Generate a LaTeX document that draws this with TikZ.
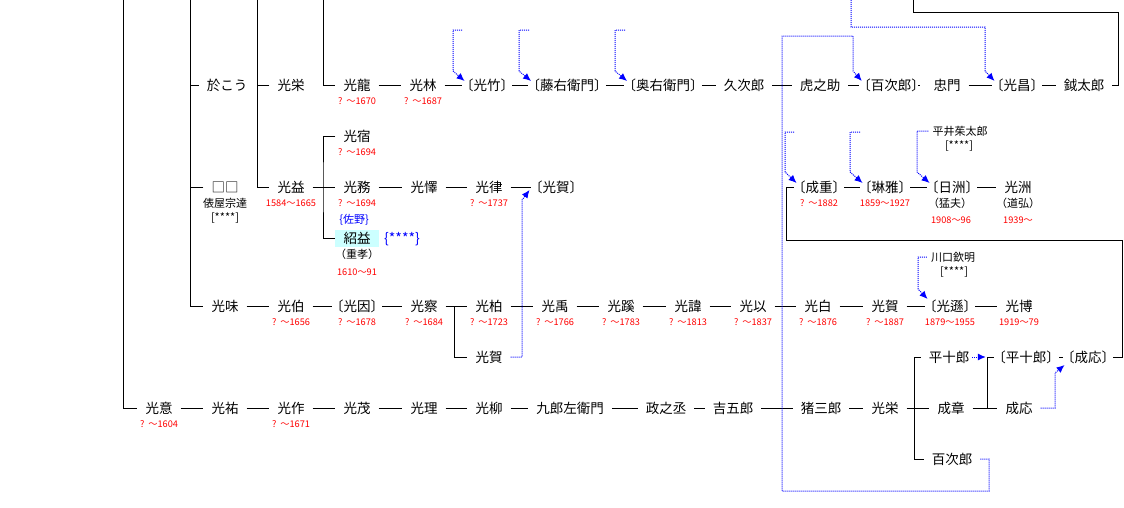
\documentclass[tikz,border=0pt]{standalone}
\usepackage{fontspec}
\newfontfamily\jp{Noto Sans CJK JP}[RawFeature={+halt}]
\usetikzlibrary{arrows.meta,calc}
\definecolor{hl}{RGB}{204,255,255}
\begin{document}
\begin{tikzpicture}[x=1pt,y=-1pt,
  nm/.style={font=\jp\fontsize{13.5}{14}\selectfont, inner xsep=8pt, inner ysep=0pt, text height=11.9pt, text depth=1.6pt},
  bk/.style={nm, inner xsep=5pt},
  yr/.style={font=\jp\fontsize{9.2}{10}\selectfont, text=red, inner sep=0pt},
  sm/.style={font=\jp\fontsize{11}{12}\selectfont, inner sep=0pt},
  bl/.style={sm, text=blue},
  ln/.style={draw=black, line width=1pt},
  dt/.style={draw=blue, line width=1pt, dash pattern=on 1pt off 1pt},
  ar/.style={dt, -{Latex[length=8pt,width=7pt]}},
]
\useasboundingbox (0,0) rectangle (1124,507);
% ---------- row 1
\node[nm] (okou) at (227,85) {於こう};
\node[nm] (kouei1) at (291,85) {光栄};
\node[nm] (kouryu) at (357,85) {光龍};
\node[nm] (kourin) at (423,85) {光林};
\node[bk] (kouchiku) at (487,85) {〔光竹〕};
\node[bk] (touemon) at (567,85) {〔藤右衛門〕};
\node[bk] (ouemon) at (663,85) {〔奥右衛門〕};
\node[nm] (kyujiro) at (744,85) {久次郎};
\node[nm] (tora) at (820,85) {虎之助};
\node[bk] (hyakuA) at (891,85) {〔百次郎〕};
\node[nm] (tadakado) at (947,85) {忠門};
\node[bk] (kousho) at (1017,85) {〔光昌〕};
\node[nm] (ontaro) at (1084,85) {鉞太郎};
\node[yr] (d1) at (357,101) {?\hspace{4pt}〜1670};
\node[yr] (d2) at (423,101) {?\hspace{4pt}〜1687};
% ---------- row 1.5 / 2
\node[nm] (koushuku) at (357,136) {光宿};
\node[yr] (d3) at (357,152) {?\hspace{4pt}〜1694};
\node[nm] (kaku) at (225,187) {□□};
\node[sm] (tawaraya) at (225,203) {俵屋宗達};
\node[sm] (ast1) at (225,218) {[****]};
\node[nm] (kouek) at (291,187) {光益};
\node[yr] (d4) at (291,203) {1584〜1665};
\node[nm] (koumu) at (357,187) {光務};
\node[yr] (d5) at (357,203) {?\hspace{4pt}〜1694};
\node[bl] (sano) at (354,220) {\{佐野\}};
\node[nm, fill=hl, inner xsep=8.5pt, inner ysep=1.75pt] (shoeki) at (357,238) {紹益};
\node[bl, font=\jp\fontsize{14}{15}\selectfont] (ast2) at (402,239) {\{****\}};
\node[sm] (shigetaka) at (357,254) {（重孝）};
\node[yr] (d6) at (357,272) {1610〜91};
\node[nm] (koueki2) at (424,187) {光懌};
\node[nm] (kouritsu) at (489,187) {光律};
\node[yr] (d7) at (489,203) {?\hspace{4pt}〜1737};
\node[bk] (kougaA) at (556,187) {〔光賀〕};
\node[bk] (seiju) at (819,187) {〔成重〕};
\node[yr] (d8) at (819,203) {?\hspace{4pt}〜1882};
\node[bk] (ringa) at (885,187) {〔琳雅〕};
\node[yr] (d9) at (885,203) {1859〜1927};
\node[bk] (nisshu) at (952,187) {〔日洲〕};
\node[sm] (takeo) at (950,203) {（猛夫）};
\node[yr] (d10) at (951,220) {1908〜96};
\node[nm] (koushu) at (1018,187) {光洲};
\node[sm] (michihiro) at (1018,203) {（道弘）};
\node[yr] (d11) at (1018,220) {1939〜};
\node[sm, inner xsep=4pt] (hirai) at (960,131) {平井茱太郎};
\node[sm] (ast3) at (959,146) {[****]};
% ---------- row 3
\node[nm] (koumi) at (225,306) {光味};
\node[nm] (kouhaku) at (291,306) {光伯};
\node[bk] (kouin) at (357,306) {〔光因〕};
\node[nm] (kousatsu) at (424,306) {光察};
\node[nm] (kouhaku2) at (489,306) {光柏};
\node[nm] (kouu) at (555,306) {光禹};
\node[nm] (koukei) at (621,306) {光蹊};
\node[nm] (koui) at (688,306) {光諱};
\node[nm] (kouii) at (753,306) {光以};
\node[nm] (kouhaku3) at (818,306) {光白};
\node[nm] (kouga2) at (885,306) {光賀};
\node[bk] (kouson) at (950,306) {〔光遜〕};
\node[nm] (kouhaku4) at (1019,306) {光博};
\node[sm, inner xsep=4pt] (kawaguchi) at (953,257) {川口欽明};
\node[sm] (ast4) at (954,272) {[****]};
\node[yr] at (291,322) {?\hspace{4pt}〜1656};
\node[yr] at (357,322) {?\hspace{4pt}〜1678};
\node[yr] at (424,322) {?\hspace{4pt}〜1684};
\node[yr] at (489,322) {?\hspace{4pt}〜1723};
\node[yr] at (555,322) {?\hspace{4pt}〜1766};
\node[yr] at (621,322) {?\hspace{4pt}〜1783};
\node[yr] at (688,322) {?\hspace{4pt}〜1813};
\node[yr] at (753,322) {?\hspace{4pt}〜1837};
\node[yr] at (818,322) {?\hspace{4pt}〜1876};
\node[yr] at (885,322) {?\hspace{4pt}〜1887};
\node[yr] at (950,322) {1879〜1955};
\node[yr] at (1019,322) {1919〜79};
% ---------- row 3.5
\node[nm] (kouga3) at (489,357) {光賀};
\node[nm] (heijuro) at (949,357) {平十郎};
\node[bk] (heijuroA) at (1026,357) {〔平十郎〕};
\node[bk] (seiouA) at (1088,357) {〔成応〕};
% ---------- row 4
\node[nm] (kouiz) at (159,408) {光意};
\node[nm] (kouyu) at (225,408) {光祐};
\node[nm] (kousaku) at (291,408) {光作};
\node[nm] (koumo) at (357,408) {光茂};
\node[nm] (kouri) at (424,408) {光理};
\node[nm] (kouryu2) at (489,408) {光柳};
\node[nm] (kuro) at (570,408) {九郎左衛門};
\node[nm] (masa) at (666,408) {政之丞};
\node[nm] (kichi) at (733,408) {吉五郎};
\node[nm] (isa) at (821,408) {猪三郎};
\node[nm] (kouei2) at (885,408) {光栄};
\node[nm] (seisho) at (951,408) {成章};
\node[nm] (seiou) at (1019,408) {成応};
\node[yr] at (159,424) {?\hspace{4pt}〜1604};
\node[yr] at (291,424) {?\hspace{4pt}〜1671};
\node[nm] (hyaku) at (952,459) {百次郎};
% ---------- coordinates (free ends, bends)
\coordinate (t1) at (123,0);
\coordinate (t2) at (190,0);
\coordinate (t3) at (257,0);
\coordinate (t4) at (323,0);
\coordinate (b1) at (323,187);
\coordinate (b2) at (454,306);
\coordinate (b3) at (914,408);
\coordinate (b4) at (987,408);
\coordinate (ua) at (1118,12);
\coordinate (ub) at (913,12);
\coordinate (uc) at (913,0);
\coordinate (va) at (1122,240);
\coordinate (vb) at (786,240);
% ---------- black connectors
\draw[ln] (t1) |- (kouiz.west);
\draw[ln] (t2) |- (koumi.west);
\draw[ln] (okou.west) -- (t2 |- okou.west);
\draw[ln] (kaku.west) -- (t2 |- kaku.west);
\draw[ln] (t3) |- (kouek.west);
\draw[ln] (kouei1.west) -- (t3 |- kouei1.west);
\draw[ln] (t4) |- (kouryu.west);
\draw[ln] (koushuku.west) -| (b1) |- (shoeki.west);
\draw[ln] (b2) |- (kouga3.west);
\draw[ln] (heijuro.west) -| (b3) |- (hyaku.west);
\draw[ln] (b4) |- (heijuroA.west);
\draw[ln] (ontaro.east) -| (ua) -- (ub) -- (uc);
\draw[ln] (seiouA.east) -| (va) -- (vb) |- (seiju.west);
\foreach \a/\b in {kouryu/kourin, kourin/kouchiku, kouchiku/touemon, touemon/ouemon,
  ouemon/kyujiro, kyujiro/tora, tora/hyakuA, tadakado/kousho, kousho/ontaro,
  kouek/koumu, koumu/koueki2, koueki2/kouritsu, kouritsu/kougaA,
  seiju/ringa, ringa/nisshu, nisshu/koushu,
  koumi/kouhaku, kouhaku/kouin, kouin/kousatsu, kousatsu/kouhaku2, kouhaku2/kouu,
  kouu/koukei, koukei/koui, koui/kouii, kouii/kouhaku3, kouhaku3/kouga2,
  kouga2/kouson, kouson/kouhaku4,
  kouiz/kouyu, kouyu/kousaku, kousaku/koumo, koumo/kouri, kouri/kouryu2,
  kouryu2/kuro, kuro/masa, masa/kichi, kichi/isa, isa/kouei2, kouei2/seisho,
  seisho/seiou}
  \draw[ln] (\a.east) -- (\b.west);
\draw[ln, shorten <=5pt, shorten >=5pt] (hyakuA.east) -- (tadakado.west);
\draw[ln, shorten <=1pt, shorten >=0pt] (heijuroA.east) -- (seiouA.west);
% ---------- blue dotted arrows
\draw[ar] (462,30) -- (453,30) -- (453,71) -- ($(kouchiku.west)+(3,-4)$);
\draw[ar] (529,30) -- (519,30) -- (519,71) -- ($(touemon.west)+(3,-4)$);
\draw[ar] (625,30) -- (615,30) -- (615,71) -- ($(ouemon.west)+(3,-4)$);
\draw[ar] (851,0) -- (851,27) -- (985,27) -- (985,71) -- ($(kousho.west)+(3,-4)$);
\draw[ar] (hyaku.east) -- (989,459) -- (989,491) -- (782,491) -- (782,36) -- (853,36) -- (853,71) -- ($(hyakuA.west)+(3,-4)$);
\draw[ar] (794,132) -- (785,132) -- (785,172) -- ($(seiju.west)+(3,-4)$);
\draw[ar] (860,132) -- (850,132) -- (850,172) -- ($(ringa.west)+(3,-4)$);
\draw[ar] (hirai.west) -- (917,131) -- (917,172) -- ($(nisshu.west)+(3,-4)$);
\draw[ar] (kawaguchi.west) -- (918,257) -- (918,289) -- ($(kouson.west)+(3,-7)$);
\draw[ar] (kouga3.east) -- (522,357) -- (522,200) -- ($(kougaA.west)+(-1,3)$);
\draw[ar, shorten >=8pt, shorten <=-5pt] (heijuro.east) -- (heijuroA.west);
\draw[ar] (seiou.east) -- (1055,408) -- (1055,373) -- ($(seiouA.west)+(2,8)$);
\end{tikzpicture}
\end{document}
